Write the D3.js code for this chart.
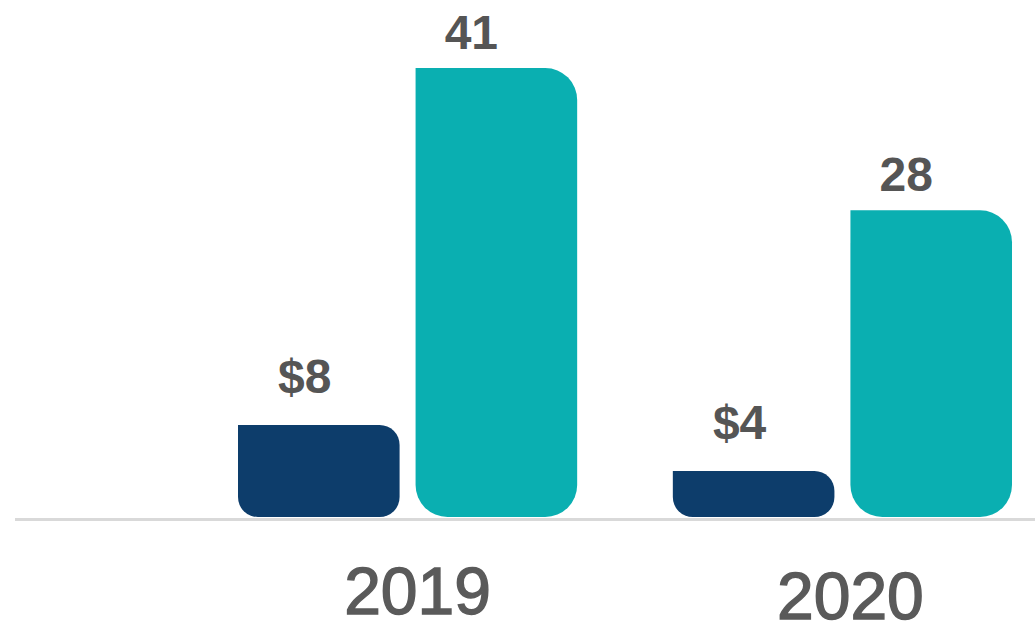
<!DOCTYPE html>
<html>
<head>
<meta charset="utf-8">
<script src="https://cdn.jsdelivr.net/npm/d3@7"></script>
<style>
	html, body { margin: 0; padding: 0; background: #fff; }
	svg { display: block; font-family: "Liberation Sans", Arial, sans-serif; }
</style>
</head>
<body>
<div id="chart"></div>
<script>
/*
	Two year groups, two bars each, rounded corners.
*/

var years = ['2019', '2020'];
var series = ['dollars', 'count'];
var dollarValues = [8, 4];
var countValues = [41, 28];
var dollarLabels = ['$8', '$4'];
var countLabels = ['41', '28'];

var width = 1035;
var height = 621;

var colors = {
	'dollars': '#0d3d6b',
	'count': '#0aafb1'
};

var baseY = 517;

var svg = d3.select('#chart').append('svg')
	.attr('width', width)
	.attr('height', height);

var x0 = d3.scaleBand()
	.domain(years)
	.range([238, 1012])
	.paddingInner(0.22)
	.paddingOuter(0);

var x1 = d3.scaleBand()
	.domain(series)
	.range([0, x0.bandwidth()])
	.paddingInner(0.09)
	.paddingOuter(0);

// dollars and counts have their own scales
var yCount = d3.scaleLinear()
	.domain([0, 41])
	.range([baseY, 68]);

var yDollar = d3.scaleLinear()
	.domain([0, 8])
	.range([baseY, 425]);

var yScales = {'dollars': yDollar, 'count': yCount};

// bar shape: square top-left corner, the rest rounded
function barPath(x, y0, w, h, r) {
	r = Math.min(r, h / 2, w / 2);
	return 'M' + x + ',' + y0 +
		'H' + (x + w - r) +
		'A' + r + ',' + r + ' 0 0 1 ' + (x + w) + ',' + (y0 + r) +
		'V' + (y0 + h - r) +
		'A' + r + ',' + r + ' 0 0 1 ' + (x + w - r) + ',' + (y0 + h) +
		'H' + (x + r) +
		'A' + r + ',' + r + ' 0 0 1 ' + x + ',' + (y0 + h - r) +
		'Z';
}

var rows = years.map(function(yr, i) {
	return [
		{year: yr, key: 'dollars', value: dollarValues[i], label: dollarLabels[i], r: 20, dx: -14, gap: 32},
		{year: yr, key: 'count', value: countValues[i], label: countLabels[i], r: 32, dx: -25, gap: 19}
	];
});

// baseline
svg.append('line')
	.attr('x1', 15)
	.attr('x2', width)
	.attr('y1', baseY + 2.5)
	.attr('y2', baseY + 2.5)
	.attr('stroke', '#d9d9d9')
	.attr('stroke-width', 3);

var groups = svg.selectAll('g.year')
	.data(rows)
	.enter().append('g')
	.attr('class', 'year')
	.attr('transform', function(d, i) { return 'translate(' + x0(years[i]) + ',0)'; });

groups.selectAll('path')
	.data(function(d) { return d; })
	.enter().append('path')
	.attr('fill', function(d) { return colors[d.key]; })
	.attr('d', function(d) {
		var top = yScales[d.key](d.value);
		return barPath(x1(d.key), top, x1.bandwidth(), baseY - top, d.r);
	});

groups.selectAll('text.value')
	.data(function(d) { return d; })
	.enter().append('text')
	.attr('class', 'value')
	.attr('x', function(d) { return x1(d.key) + x1.bandwidth() / 2 + d.dx; })
	.attr('y', function(d) { return yScales[d.key](d.value) - d.gap; })
	.attr('text-anchor', 'middle')
	.attr('fill', '#555')
	.style('font-size', '48px')
	.style('font-weight', 'bold')
	.text(function(d) { return d.label; });

// year labels
svg.selectAll('text.yr')
	.data(years)
	.enter().append('text')
	.attr('class', 'yr')
	.attr('x', function(d, i) { return x0(d) + x0.bandwidth() / 2 + (i === 0 ? 10 : 8); })
	.attr('y', function(d, i) { return i === 0 ? 614 : 619; })
	.attr('text-anchor', 'middle')
	.attr('fill', '#5a5a5a')
	.attr('stroke', '#5a5a5a')
	.attr('stroke-width', 1.4)
	.style('font-size', '66px')
	.text(function(d) { return d; });
</script>
</body>
</html>
